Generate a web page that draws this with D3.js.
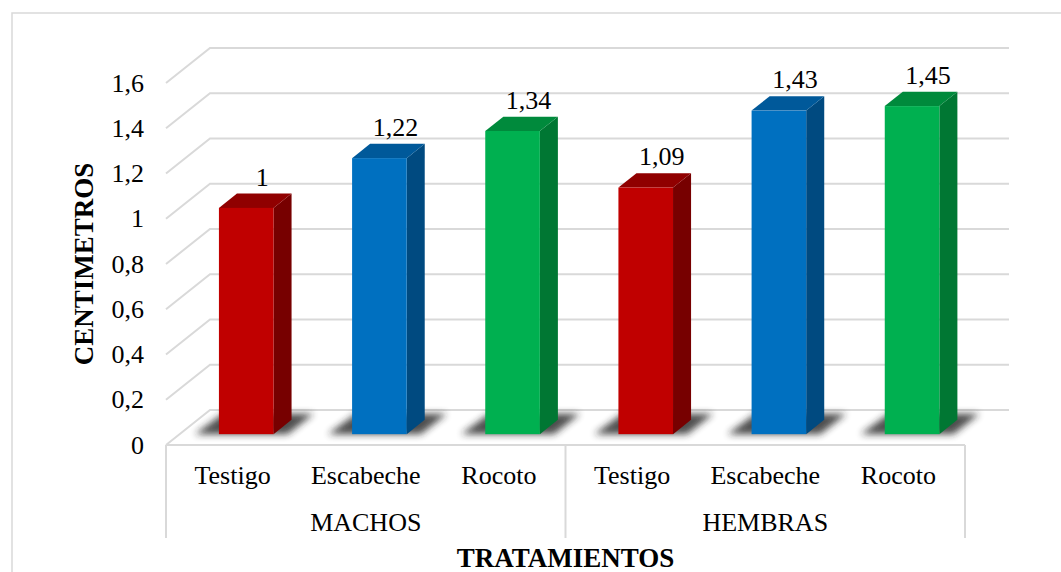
<!DOCTYPE html>
<html>
<head>
<meta charset="utf-8">
<script src="https://cdn.jsdelivr.net/npm/d3@7"></script>
<style>
  html, body { margin: 0; padding: 0; background: #fff; }
  svg { display: block; }
  svg text { font-family: "Liberation Serif", "Times New Roman", "DejaVu Serif", serif; }
</style>
</head>
<body>
<svg id="chart" width="1061" height="572"></svg>
<script>
// Treatments and their measured lengths (cm)
const groups = ["MACHOS", "HEMBRAS"];
const treatments = ["Testigo", "Escabeche", "Rocoto"];
const valuesMachos = [1, 1.22, 1.34];
const valuesHembras = [1.09, 1.43, 1.45];
const valueLabels = ["1", "1,22", "1,34", "1,09", "1,43", "1,45"];
const yTicks = [0, 0.2, 0.4, 0.6, 0.8, 1, 1.2, 1.4, 1.6];
const yTickLabels = ["0", "0,2", "0,4", "0,6", "0,8", "1", "1,2", "1,4", "1,6"];

// Face colours per treatment: front, top, side
const palette = {
  "Testigo":   { front: "#C00000", top: "#900000", side: "#770000" },
  "Escabeche": { front: "#0070C0", top: "#00599A", side: "#004A80" },
  "Rocoto":    { front: "#00B050", top: "#008A3C", side: "#007733" }
};

const rows = [];
groups.forEach((g, gi) => {
  const vals = gi === 0 ? valuesMachos : valuesHembras;
  treatments.forEach((t, ti) => rows.push({ group: g, treatment: t, value: vals[ti], key: g + "|" + t }));
});
rows.forEach((d, i) => d.label = valueLabels[i]);

const FONT = "Liberation Serif, Times New Roman, DejaVu Serif, serif";
const svg = d3.select("#chart");
const gridColor = "#D9D9D9";

// Plot geometry (front plane) and depth projection of the 3D box
const left = 166, right = 965, floorY = 445;
const depthX = 44, depthY = -35;
const proj = (d) => [depthX * d, depthY * d];

const x = d3.scaleBand().domain(rows.map(d => d.key)).range([left, right]);
const y = d3.scaleLinear().domain([0, 1.6]).range([floorY, 83]);

// Outer frame
svg.append("rect")
  .attr("x", 12).attr("y", 13).attr("width", 1200).attr("height", 700)
  .attr("fill", "none").attr("stroke", gridColor).attr("stroke-width", 1.5);

// Gridlines: short diagonal on the side wall + horizontal on the back wall
const [bx, by] = proj(1);
const grid = svg.append("g").attr("stroke", gridColor).attr("stroke-width", 2).attr("fill", "none");
yTicks.forEach(t => {
  const yf = y(t);
  grid.append("path")
    .attr("d", `M${left},${yf} L${left + bx},${yf + by} L${right + bx},${yf + by}`);
});
// Floor front edge
grid.append("line").attr("x1", left).attr("x2", right).attr("y1", floorY).attr("y2", floorY);

// Y tick labels
svg.append("g").selectAll("text").data(yTicks).join("text")
  .attr("x", 144).attr("y", d => y(d)).attr("dy", "0.33em")
  .attr("text-anchor", "end").attr("font-family", FONT).attr("font-size", 26).attr("fill", "#000")
  .text((d, i) => yTickLabels[i]);

// Soft shadow filter for bar bases
const defs = svg.append("defs");
defs.append("filter").attr("id", "soft").attr("x", "-50%").attr("y", "-50%").attr("width", "200%").attr("height", "200%")
  .append("feGaussianBlur").attr("stdDeviation", 3.5);

// Bars
const barDepth = 0.31;          // front face sits this far into the box
const barThick = 0.41;          // bar depth as fraction of box depth
const bw = x.bandwidth() * 0.41;
const [fx, fy] = proj(barDepth);
const [sx, sy] = proj(barThick);

const bars = svg.append("g");
rows.forEach(d => {
  const c = palette[d.treatment];
  const x0 = x(d.key) + (x.bandwidth() - bw) / 2 + fx;
  const x1 = x0 + bw;
  const yb = y(0) + fy;
  const yt = y(d.value) + fy;
  // floor shadow
  bars.append("path")
    .attr("d", `M${x0 - 24},${yb} L${x1 + sx - 4},${yb} L${x1 + sx + 22},${yb + sy - 6} L${x0 + 4},${yb + sy - 6} Z`)
    .attr("fill", "#222").attr("opacity", 0.8).attr("filter", "url(#soft)");
  // side face
  bars.append("path")
    .attr("d", `M${x1},${yb} L${x1 + sx},${yb + sy} L${x1 + sx},${yt + sy} L${x1},${yt} Z`)
    .attr("fill", c.side);
  // top face
  bars.append("path")
    .attr("d", `M${x0},${yt} L${x1},${yt} L${x1 + sx},${yt + sy} L${x0 + sx},${yt + sy} Z`)
    .attr("fill", c.top);
  // front face
  bars.append("rect")
    .attr("x", x0).attr("y", yt).attr("width", bw).attr("height", yb - yt)
    .attr("fill", c.front);
  // value label
  bars.append("text")
    .attr("x", (x0 + x1) / 2 + 16).attr("y", yt + sy - 8)
    .attr("text-anchor", "middle").attr("font-family", FONT).attr("font-size", 26).attr("fill", "#000")
    .text(d.label);
});

// Category axis box
const boxBottom = 538;
const divider = x(rows[3].key);
const axisG = svg.append("g").attr("stroke", gridColor).attr("stroke-width", 2);
[left, divider, right].forEach(xx => {
  axisG.append("line").attr("x1", xx).attr("x2", xx).attr("y1", floorY).attr("y2", boxBottom);
});

svg.append("g").selectAll("text").data(rows).join("text")
  .attr("x", d => x(d.key) + x.bandwidth() / 2).attr("y", 484)
  .attr("text-anchor", "middle").attr("font-family", FONT).attr("font-size", 26).attr("fill", "#000")
  .text(d => d.treatment);

svg.append("g").selectAll("text").data(groups).join("text")
  .attr("x", (d, i) => i === 0 ? (left + divider) / 2 : (divider + right) / 2).attr("y", 531)
  .attr("text-anchor", "middle").attr("font-family", FONT).attr("font-size", 26).attr("fill", "#000")
  .text(d => d);

// Axis titles
svg.append("text")
  .attr("x", (left + right) / 2).attr("y", 567)
  .attr("text-anchor", "middle").attr("font-family", FONT).attr("font-size", 27).attr("font-weight", "bold").attr("fill", "#000")
  .text("TRATAMIENTOS");

svg.append("text")
  .attr("transform", `translate(93,${(y(0) + y(1.6)) / 2}) rotate(-90)`)
  .attr("text-anchor", "middle").attr("font-family", FONT).attr("font-size", 27).attr("font-weight", "bold").attr("fill", "#000")
  .text("CENTIMETROS");
</script>
</body>
</html>
